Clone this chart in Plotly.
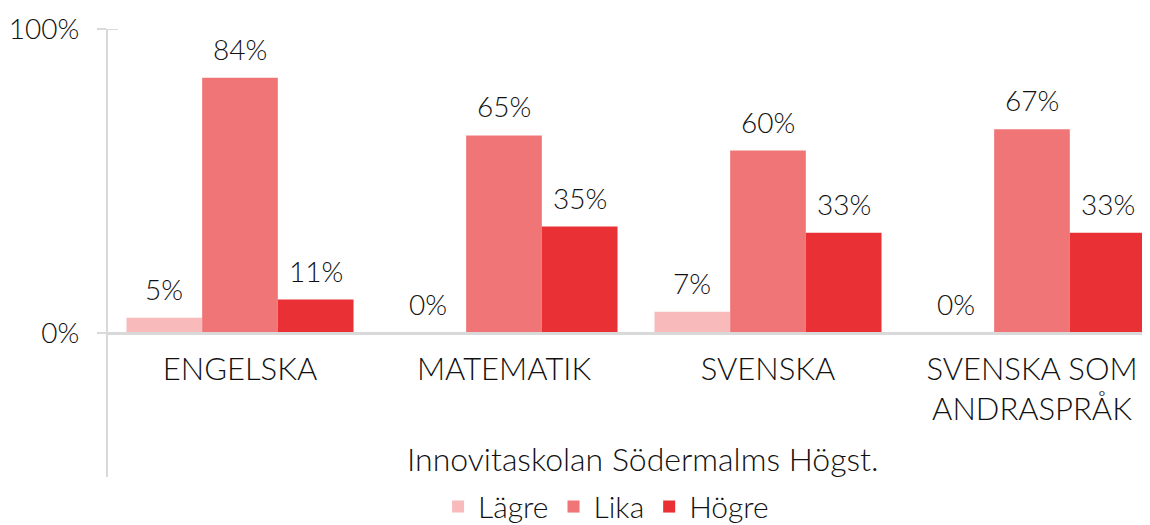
import plotly.graph_objects as go

categories = ["ENGELSKA", "MATEMATIK", "SVENSKA", "SVENSKA SOM<br>ANDRASPRÅK"]
series_names = ["Lägre", "Lika", "Högre"]
lagre = [0.05, 0.0, 0.07, 0.0]
lika = [0.84, 0.65, 0.60, 0.67]
hogre = [0.11, 0.35, 0.33, 0.33]
colors = ["#F8BABB", "#F07577", "#E93034"]
group_label = "Innovitaskolan Södermalms Högst."
ytick_vals = [0, 1]
ytick_text = ["0%", "100%"]

FONT = "Lato"
W = 300
TXT = "#111111"
AX = "#d9d9d9"

def f(size=28):
    return dict(family=FONT, size=size, color=TXT, weight=W)

# page body has an 8px margin; figure is sized/offset to compensate
fig = go.Figure()
annots = []
bar_px = 264 * 0.86 / 3
for i, (name, vals, col) in enumerate(zip(series_names, [lagre, lika, hogre], colors)):
    fig.add_trace(go.Bar(
        x=categories, y=vals, name=name, marker=dict(color=col, line=dict(width=0)),
    ))
    for c, v in zip(categories, vals):
        annots.append(dict(x=c, y=v, xref="x", yref="y", text=f"{round(v*100)}%",
                           showarrow=False, xshift=(i - 1) * bar_px, yshift=29,
                           xanchor="center", yanchor="middle", font=f(28)))

ymin = -0.474
annots.append(dict(text=group_label, xref="paper", yref="paper", x=0.513, y=(477 - 458) / 448,
                   xanchor="center", yanchor="middle", showarrow=False, font=f(32)))

fig.update_layout(
    width=1142, height=517,
    margin=dict(l=100, r=0, t=21, b=48, autoexpand=False),
    paper_bgcolor="white", plot_bgcolor="white",
    barmode="group", bargap=0.14, bargroupgap=0,
    font=f(),
    showlegend=True,
    legend=dict(orientation="h", x=0.478, xanchor="center", y=-0.066, yanchor="middle",
                font=f(30), itemwidth=30, traceorder="normal"),
    xaxis=dict(range=[-0.5, 3.447], anchor="free", position=-ymin / (1 - ymin),
               showline=True, linecolor=AX, linewidth=3, ticks="", showgrid=False,
               tickfont=f(31), ticklabelstandoff=8, zeroline=False, automargin=False),
    yaxis=dict(range=[ymin, 1.0], tickvals=ytick_vals, ticktext=ytick_text,
               showline=True, linecolor=AX, linewidth=2, ticks="outside", ticklen=9,
               tickcolor=AX, tickwidth=2, showgrid=False, zeroline=False,
               tickfont=f(28), ticklabelstandoff=12, automargin=False),
    annotations=annots,
    shapes=[dict(type="line", xref="paper", yref="y", x0=0, x1=10 / 1042, y0=1, y1=1,
                 line=dict(color=AX, width=2))],
)

fig.write_html("out.html")
